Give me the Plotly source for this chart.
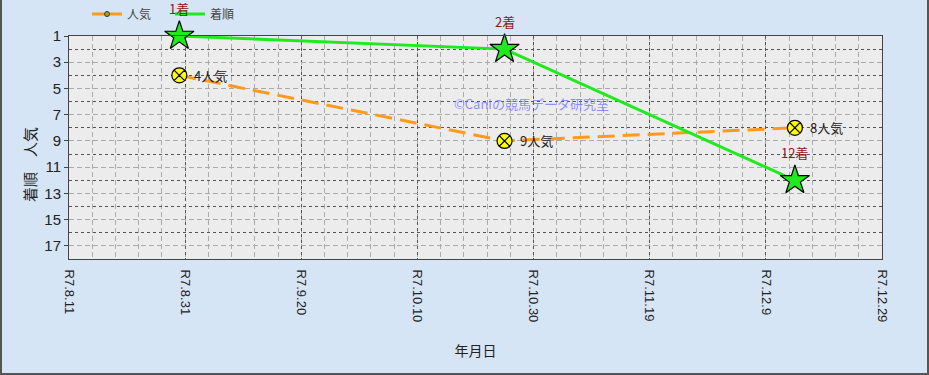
import plotly.graph_objects as go

# ---- data ----
race_dates = ["2025-08-30", "2025-10-25", "2025-12-14"]
popularity = [4, 9, 8]
finish = [1, 2, 12]
pop_labels = ["4人気", "9人気", "8人気"]
finish_labels = ["1着", "2着", "12着"]

x_tick_dates = ["2025-08-11", "2025-08-31", "2025-09-20", "2025-10-10",
                "2025-10-30", "2025-11-19", "2025-12-09", "2025-12-29"]
x_tick_text = ["R7.8.11", "R7.8.31", "R7.9.20", "R7.10.10",
               "R7.10.30", "R7.11.19", "R7.12.9", "R7.12.29"]
y_ticks = [1, 3, 5, 7, 9, 11, 13, 15, 17]

FONT = "Liberation Sans, Arial, Noto Sans CJK JP"
JFONT = "Noto Sans CJK JP, Liberation Sans"

W, H = 929, 375
ML, MR, MT, MB = 69, 47, 36, 116
PW, PH = W - ML - MR, H - MT - MB

ORANGE = "#ff9a1a"
GREEN = "#1eea1e"

fig = go.Figure()

fig.add_trace(go.Scatter(
    x=race_dates, y=popularity, name="人気", showlegend=False,
    mode="lines+markers",
    line=dict(color=ORANGE, width=3, dash="17px,8px"),
    marker=dict(symbol="circle-x", size=15, color="#ffff00",
                line=dict(color="#000000", width=1.2)),
    cliponaxis=False,
))

fig.add_trace(go.Scatter(
    x=race_dates, y=finish, name="着順", showlegend=False,
    mode="lines+markers",
    line=dict(color=GREEN, width=3),
    marker=dict(symbol="star", size=22, color=GREEN,
                line=dict(color="#000000", width=1.2)),
    cliponaxis=False,
))

# legend-only entries (as in the original, a line with a tiny marker)
fig.add_trace(go.Scatter(
    x=[None], y=[None], name="人気", mode="lines+markers",
    line=dict(color=ORANGE, width=3, dash="12px,6px"),
    marker=dict(symbol="circle", size=5, color="#b5a000", line=dict(color="#333", width=1)),
))
fig.add_trace(go.Scatter(
    x=[None], y=[None], name="着順", mode="lines",
    line=dict(color=GREEN, width=3),
))

for d, p, t in zip(race_dates, popularity, pop_labels):
    fig.add_annotation(x=d, y=p, text=t, showarrow=False, xanchor="left", xshift=13,
                       font=dict(family=JFONT, size=13, color="#222222"))

for d, f, t in zip(race_dates, finish, finish_labels):
    fig.add_annotation(x=d, y=f, text=t, showarrow=False, yshift=28,
                       font=dict(family=JFONT, size=13, color="#8b1a1a"))

fig.add_annotation(xref="paper", yref="paper", x=(531 - ML) / PW, y=(MT + PH - 92) / PH,
                   text="©Caniの競馬データ研究室", showarrow=False,
                   font=dict(family=JFONT, size=13, color="rgba(110,110,255,0.75)"))

# y-axis title placed as rotated annotation
fig.add_annotation(xref="paper", yref="paper", x=(29 - ML) / PW, y=(MT + PH - 165) / PH,
                   xanchor="center", yanchor="middle",
                   text="着順　人気", textangle=-90, showarrow=False,
                   font=dict(family=JFONT, size=15, color="#222222"))

# outer frame
fig.add_shape(type="rect", xref="paper", yref="paper",
              x0=(-ML + 1) / PW, x1=(W - ML - 1) / PW,
              y0=(-MB + 1) / PH, y1=(H - MT - 1) / PH,
              line=dict(color="#555555", width=2), layer="below")

fig.update_layout(
    width=W, height=H,
    margin=dict(l=ML, r=MR, t=MT, b=MB, pad=0, autoexpand=False),
    paper_bgcolor="#d6e5f5",
    plot_bgcolor="#ececec",
    font=dict(family=FONT, size=13, color="#222222"),
    showlegend=True,
    legend=dict(orientation="h", xref="container", yref="container",
                x=87 / W, xanchor="left",
                y=1 - 14 / H, yanchor="middle",
                bgcolor="rgba(0,0,0,0)", font=dict(family=JFONT, size=12, color="#444444"),
                entrywidth=38, entrywidthmode="pixels", traceorder="normal"),
    xaxis=dict(
        type="date", range=["2025-08-11", "2025-12-29"],
        tickmode="array", tickvals=x_tick_dates, ticktext=x_tick_text,
        tickangle=90, tickfont=dict(family=FONT, size=13, color="#222222"),
        showgrid=True, gridcolor="#555555", griddash="dot", gridwidth=1,
        minor=dict(dtick=4 * 86400000, tick0="2025-08-11", showgrid=True,
                   gridcolor="#aaaaaa", griddash="5px,3px", gridwidth=1),
        showline=True, mirror=True, linecolor="#444444", linewidth=1,
        zeroline=False, ticks="outside", ticklen=7, tickcolor="rgba(0,0,0,0)",
        title=dict(text="年月日", font=dict(family=JFONT, size=14, color="#222222"), standoff=24),
        automargin=False,
    ),
    yaxis=dict(
        range=[18, 1], tickmode="array", tickvals=y_ticks,
        tickfont=dict(family=FONT, size=15, color="#222222"),
        showgrid=True, gridcolor="#aaaaaa", griddash="5px,3px", gridwidth=1,
        minor=dict(dtick=2, tick0=0, showgrid=True, gridcolor="#555555",
                   griddash="dot", gridwidth=1),
        showline=True, mirror=True, linecolor="#444444", linewidth=1,
        zeroline=False, ticks="outside", ticklen=4, tickcolor="#444444",
        automargin=False,
    ),
)

fig.write_html("out.html")
